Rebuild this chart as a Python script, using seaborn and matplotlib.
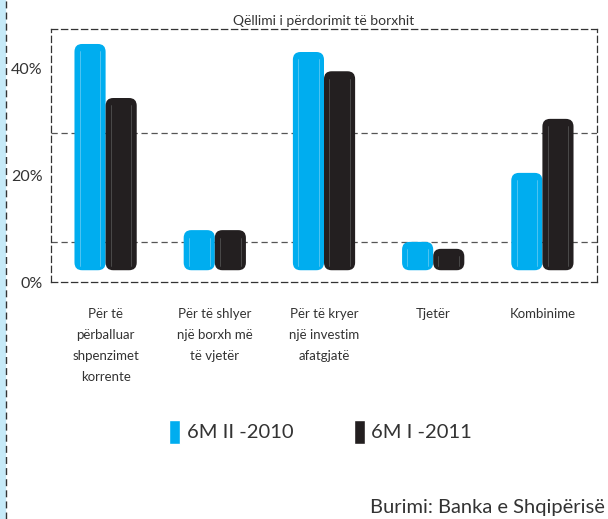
import pandas as pd
import seaborn as sns
import matplotlib.pyplot as plt
from matplotlib.patches import Rectangle, FancyBboxPatch
from matplotlib.lines import Line2D

# data
categories = ["Për të\npërballuar\nshpenzimet\nkorrente",
              "Për të shlyer\nnjë borxh më\ntë vjetër",
              "Për të kryer\nnjë investim\nafatgjatë",
              "Tjetër",
              "Kombinime"]
series = ["6M II -2010", "6M I -2011"]
vals_2010 = [44.5, 9.7, 43.0, 7.5, 20.4]
vals_2011 = [34.4, 9.7, 39.4, 6.2, 30.5]
guide_lines = [27.9, 7.5]
bar_base = 2.2

colors = ["#00adef", "#231f20"]

df = pd.DataFrame({
    "cat": categories * 2,
    "serie": [series[0]] * 5 + [series[1]] * 5,
    "val": vals_2010 + vals_2011,
})
df["h"] = df["val"] - bar_base

sns.set_style("white")
plt.rcParams["font.family"] = ["Lato", "DejaVu Sans"]

fig = plt.figure(figsize=(6.08, 5.19), dpi=100)
ax = fig.add_axes([51/608, 1-282/519, (597-51)/608, (282-29)/519])

sns.barplot(data=df, x="cat", y="h", hue="serie", palette=colors,
            width=0.57, saturation=1, ax=ax, zorder=3)

# x unit ~110 px, y unit ~5.35 px -> aspect for rounded cylinder ends
aspect = 110 / 5.35
bars = [p for p in ax.patches if p.get_height() > 0]
for p in bars:
    x0, w = p.get_x(), p.get_width()
    top = bar_base + p.get_height()
    fc = p.get_facecolor()
    p.set_alpha(0)
    cyl = FancyBboxPatch((x0, bar_base), w, p.get_height(),
                         boxstyle="round,pad=0,rounding_size=0.07",
                         mutation_aspect=aspect, facecolor=fc,
                         edgecolor="none", zorder=3)
    ax.add_patch(cyl)
    edge = "#6fcdf3" if fc[2] > 0.5 else "#5a5a5a"
    for fx in (x0 + w*0.17, x0 + w*0.83):
        ax.plot([fx, fx], [bar_base + 0.8, top - 1.4], color=edge, lw=0.5, zorder=4)

for g in guide_lines:
    ax.axhline(g, color="#555555", lw=0.9, ls=(0, (5, 3)), zorder=1)

ax.set_xlim(-0.5, 4.5)
ax.set_ylim(0, 47.3)
ax.set_yticks([0, 20, 40])
ax.set_yticklabels(["0%", "20%", "40%"], fontsize=11.5, color="#333333")
ax.set_xticks([0.5, 1.5, 2.5, 3.5])
ax.set_xticklabels([])
ax.set_xticks(range(5), minor=True)
ax.set_xticklabels(categories, minor=True, fontsize=9.5, color="#333333",
                   linespacing=1.9, va="top")
ax.tick_params(axis="x", which="minor", length=0, pad=19)
ax.tick_params(axis="x", which="major", direction="out", length=6, width=0.9, color="#333333")
ax.tick_params(axis="y", direction="inout", length=8, width=0.9, color="#333333", pad=2)
ax.set_xlabel("")
ax.set_ylabel("")

for s in ax.spines.values():
    s.set_visible(True)
    s.set_color("#333333")
    s.set_linewidth(0.9)
    s.set_linestyle((0, (5, 3)))

ax.set_title("Qëllimi i përdorimit të borxhit", fontsize=10, color="#333333", pad=3)

sns.move_legend(ax, "center", bbox_to_anchor=(0.527, 0.168), bbox_transform=fig.transFigure,
                ncol=2, frameon=False, title=None, fontsize=14.5, handlelength=0.55,
                handleheight=1.5, handletextpad=0.3, columnspacing=3.0)
for t in ax.get_legend().get_texts():
    t.set_color("#333333")

fig.text(0.995, 0.006, "Burimi: Banka e Shqipërisë", ha="right", va="bottom",
         fontsize=14.5, color="#333333")

# light blue strip with dashed edge on the left
fig.patches.append(Rectangle((0, 0), 5/608, 1, transform=fig.transFigure,
                             color="#c6eaf8", zorder=0))
fig.lines.append(Line2D([5.5/608, 5.5/608], [0, 1], transform=fig.transFigure,
                        color="#333333", lw=1, ls=(0, (5, 3))))

fig.savefig("out.png", dpi=100)
